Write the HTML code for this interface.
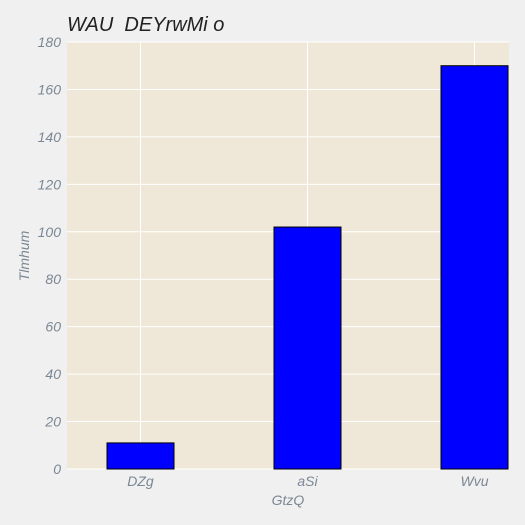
<!DOCTYPE html>
<html><head><style>
body{margin:0;background:#f0f0f0;}
svg{display:block;font-family:"Liberation Sans",sans-serif;font-style:italic;}
</style></head><body>
<svg id="c" width="525" height="525">
<rect width="525" height="525" fill="#f0f0f0"/>
<rect x="67" y="42" width="442" height="427" fill="#efe8d8"/>
<g id="grid"></g><g id="bars"></g><g id="ticks"></g>
<text x="67" y="31" font-size="20" fill="#222" style="white-space:pre">WAU  DEYrwMi o</text>
<text x="288" y="505" font-size="14" fill="#7a8794" text-anchor="middle">GtzQ</text>
<text transform="translate(29,256) rotate(-90)" font-size="14" fill="#7a8794" text-anchor="middle">Tlmhum</text>
</svg>
<script>
const categories=["DZg","aSi","Wvu"];
const values=[11,102,170];
const yTicks=[0,20,40,60,80,100,120,140,160,180];
const NS="http://www.w3.org/2000/svg";
const x0=67,x1=509,y0=469,y1=42,ymax=180;
const step=167,first=140.5,bw=67;
function xs(i){return first+i*step;}
function ys(v){return y0-(v/ymax)*(y0-y1);}
function mk(t,a,p){const e=document.createElementNS(NS,t);for(const k in a)e.setAttribute(k,a[k]);p.appendChild(e);return e;}
const grid=document.getElementById('grid'),bars=document.getElementById('bars'),ticks=document.getElementById('ticks');
yTicks.forEach(v=>{
 const l=mk('line',{x1:x0,x2:x1,y1:ys(v),y2:ys(v),stroke:'#fff','stroke-width':1},grid);
 
 
 const t=mk('text',{x:61,y:ys(v)+5,'font-size':14,fill:'#7a8794','text-anchor':'end'},ticks);
 t.textContent=v;
 
 
});
categories.forEach((c,i)=>{
 const g=mk('line',{x1:xs(i),x2:xs(i),y1:y1,y2:y0,stroke:'#fff','stroke-width':1},grid);
 
 
 const r=mk('rect',{x:xs(i)-bw/2,y:ys(values[i]),width:bw,height:y0-ys(values[i]),fill:'#0000ff',stroke:'#000','stroke-width':1},bars);
 
 
 const t=mk('text',{x:xs(i),y:486,'font-size':14,fill:'#7a8794','text-anchor':'middle'},ticks);
 t.textContent=c;
 
 
});
</script>
</body></html>
